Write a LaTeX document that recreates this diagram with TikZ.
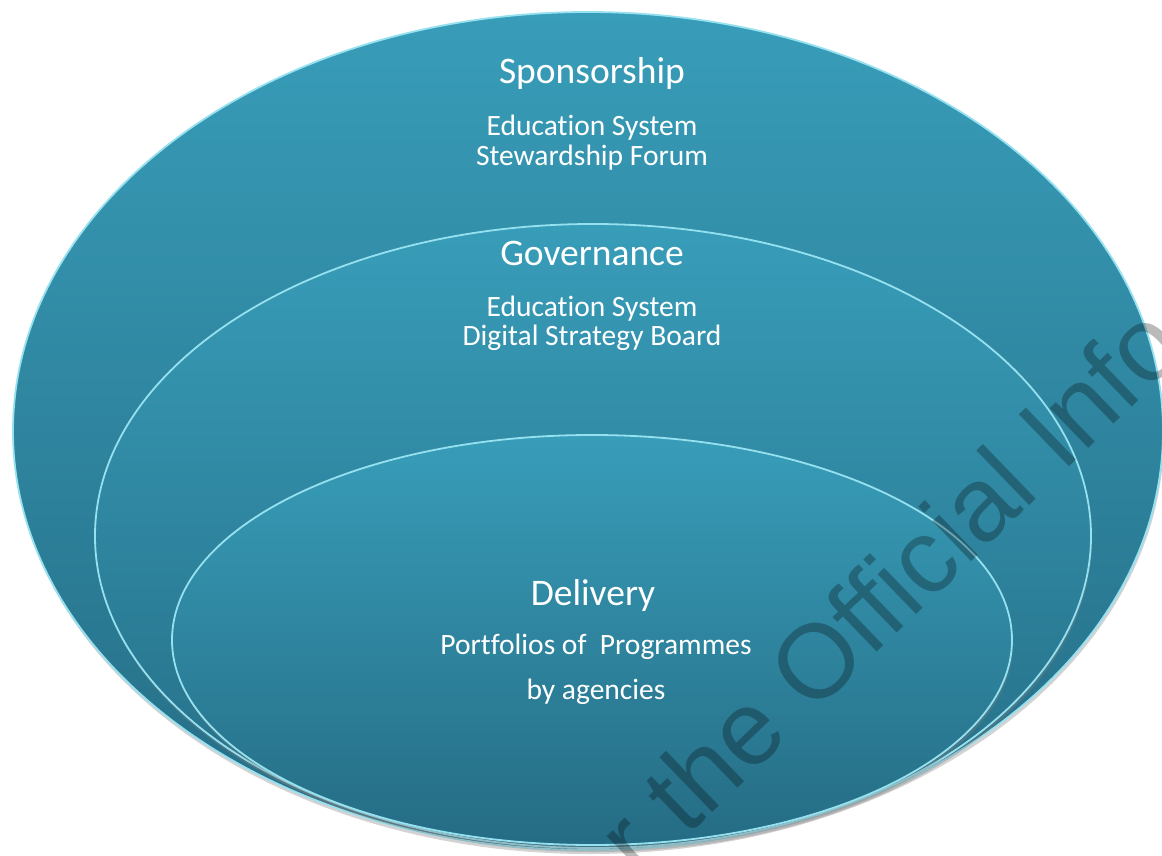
\documentclass[tikz,border=0pt]{standalone}
\usepackage{fontspec}
\setmainfont{Carlito}[Ligatures=NoCommon]
\newfontfamily\wmfont{Liberation Sans}
\usepackage{tikz}
\usetikzlibrary{shapes.geometric,shadows}
\definecolor{tealtop}{RGB}{56,157,185}
\definecolor{tealbot}{RGB}{37,108,132}
\definecolor{rim}{RGB}{150,225,240}
\tikzset{
  ring/.style={ellipse,inner sep=0pt,outer sep=0pt,top color=tealtop,bottom color=tealbot,draw=rim,line width=1.8pt,drop shadow={opacity=0.35,shadow xshift=1pt,shadow yshift=-4pt}},
  head/.style={text=white,font=\fontsize{37.5}{45}\selectfont,anchor=base,inner sep=0pt},
  sub/.style={text=white,font=\fontsize{29.5}{35}\selectfont,anchor=base,inner sep=0pt},
  wm/.style={font=\wmfont\fontsize{105}{120}\selectfont,text=black,text opacity=0.27,inner sep=0pt}
}
\begin{document}
\begin{tikzpicture}[x=1pt,y=-1pt]
        \useasboundingbox (0,0) rectangle (1162,856);
        \clip (0,0) rectangle (1162,856);
        \node[ring,minimum width=1150pt,minimum height=838pt] (sponsor) at (588,431) {};
        \node[ring,minimum width=996pt,minimum height=624pt]  (govern)  at (593,536) {};
        \node[ring,minimum width=840pt,minimum height=410pt]  (deliver) at (592,640) {};
        \node[head] (sponsorhead) at (592,84)  {Sponsorship};
        \node[sub]  (sponsoredu)  at (592,136) {Education System};
        \node[sub]  (forum)       at (592,165) {Stewardship Forum};
        \node[head] (governhead)  at (592,265) {Governance};
        \node[sub]  (governedu)   at (592,316) {Education System};
        \node[sub]  (board)       at (592,345) {Digital Strategy Board};
        \node[head] (deliverhead) at (593,605) {Delivery};
        \node[sub]  (portfolios)  at (596,654) {Portfolios of\ \ Programmes};
        \node[sub]  (agencies)    at (596,699) {by agencies};
        \node[wm,rotate=44,anchor=base west] (stamp) at (640,882) {r the Official Info};
\end{tikzpicture}
\end{document}
